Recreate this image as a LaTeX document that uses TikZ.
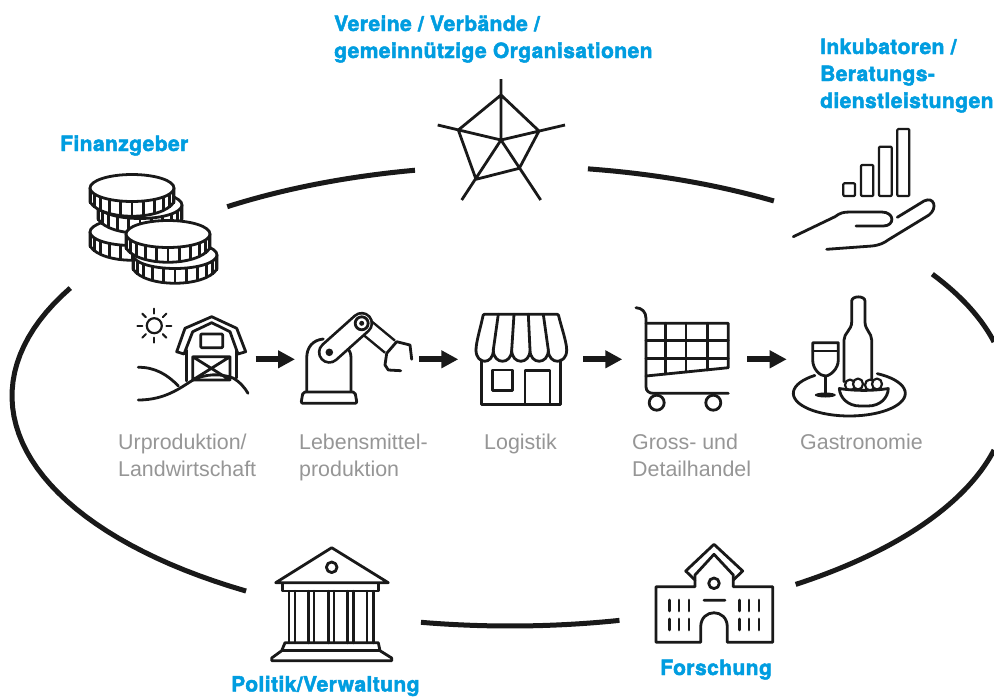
\documentclass[tikz,border=0pt]{standalone}
\usepackage{fontspec}
\setmainfont{Liberation Sans}
\newfontfamily\labelfont[BoldFont={* Bold},FakeBold=2.2,LetterSpace=2.0]{TeX Gyre Heros}
\usetikzlibrary{arrows.meta}
\definecolor{labelblue}{RGB}{0,157,224}
\definecolor{labelgray}{RGB}{150,150,150}
\tikzset{
	icon/.style={line width=2.8pt,line join=round,line cap=round,black!90},
	ring/.style={line width=5pt,black!90},
	flow/.style={line width=6pt,-{Triangle[length=17pt,width=17pt]},black!90},
	actor/.style={font=\labelfont\bfseries\fontsize{21}{27}\selectfont,text=labelblue,anchor=base west,inner sep=0pt,align=left},
	stage/.style={font=\fontsize{21.4}{27}\selectfont,text=labelgray,anchor=base west,inner sep=0pt,align=left},
}
\newcommand{\coin}[2]{%
	\fill [white] (#1-42,#2) -- (#1-42,#2+14) .. controls (#1-30,#2+33) and (#1+30,#2+33) .. (#1+42,#2+14) -- (#1+42,#2) -- cycle;
	\draw [icon] (#1-42,#2) -- (#1-42,#2+14) .. controls (#1-30,#2+33) and (#1+30,#2+33) .. (#1+42,#2+14) -- (#1+42,#2);
	\foreach \t in {-80,-64,-48,-32,-16,0,16,32,48,64,80}
		\draw [line width=2.6pt,black!90] ({#1+42*sin(\t)},{#2+13.5*cos(\t)}) -- ({#1+42*sin(\t)},{#2+13.5*cos(\t)+14});
	\draw [icon,fill=white] (#1,#2) ellipse (42 and 13.5);
}
\begin{document}
\begin{tikzpicture}[x=1pt,y=-1pt]
	\clip (0,0) rectangle (994,697);
	\fill [white] (0,0) rectangle (994,697);
	%grosser Ring
	\foreach \a/\b in {235.4/259,279/302,328/346.4,13.6/55,77.3/100.3,122/208}
		\draw [ring] plot [domain=\a:\b,samples=40] ({510+498*cos(\x)},{396+230*sin(\x)});
	%Vereine
	\draw [icon,line cap=butt] (501,79) -- (501,140)
	(437.7,125) -- (501,140) -- (565,125)
	(461.7,200) -- (501,140) -- (540.7,200)
	(501,95) -- (539,131) -- (519.3,168.3) -- (476,179.3) -- (458.3,130) -- cycle;
	%Inkubatoren
	\foreach \xa/\xb/\ya in {843.3/855/183.3,861/873.3/165,879/891.7/146.7,897.3/909.3/129}
		\draw [icon,line width=2.2pt,rounded corners=1pt] (\xa,\ya) rectangle (\xb,196);
	\draw [icon] (793.3,236.7) -- (835,216.7) .. controls (840,213) and (843,212) .. (850,212) -- (881.7,212) .. controls (895,212) and (895,226) .. (883.3,226) -- (856,226);
	\draw [icon] (826.7,249.3) -- (872,246) .. controls (880,245) and (884,243) .. (888,240) -- (929,215) .. controls (938,208) and (934,196) .. (924,201) -- (897.3,217.3);
	%Finanzgeber
	\coin{132}{232}
	\coin{140}{205}
	\coin{132}{188}
	\coin{175}{255}
	\coin{168}{234}
	%Landwirtschaft
	\draw [icon,line width=2.2pt] (154.3,325.7) circle (7.5);
	\foreach \t in {0,45,...,315}
		\draw [icon,line width=2pt] ({154.3+12*cos(\t)},{325.7+12*sin(\t)}) -- ({154.3+17*cos(\t)},{325.7+17*sin(\t)});
	\draw [icon] (186.7,350) -- (186.7,381) (236.7,350) -- (236.7,378);
	\draw [icon] (176.7,351.7) -- (185,328.3) -- (211.7,316.7) -- (236.7,328.3) -- (245.7,351.7) -- (238,354) -- (230,331.7) -- (211.7,322.7) -- (192.7,331.7) -- (184,354) -- cycle;
	\draw [icon] (192.7,356.7) rectangle (230,380) (192.7,356.7) -- (230,380) (230,356.7) -- (192.7,380);
	\draw [icon,rounded corners=1pt] (200.7,334) rectangle (222.7,347.7);
	\draw [icon] (138.3,400) .. controls (165,400) and (180,388) .. (193,380) .. controls (205,374) and (220,373) .. (233,378) .. controls (240,382) and (245,388) .. (248,393.3);
	\draw [icon] (138.3,367.3) .. controls (155,367) and (168,375) .. (178.3,386);
	%Lebensmittelproduktion
	\draw [icon,rounded corners=2pt] (301,403.3) -- (303,392) -- (355,392) -- (357,403.3) -- cycle;
	\draw [icon] (306.7,391.7) -- (306.7,358) .. controls (306.7,347) and (313,340) .. (323.3,339);
	\draw [icon] (351,391.7) -- (351,358) .. controls (351,354) and (350,351) .. (347.3,348);
	\draw [line width=18pt,black!90] (361.7,323.3) -- (390,346.7);
	\draw [line width=13pt,white,shorten >=-1pt] (361.7,323.3) -- (390,346.7);
	\draw [icon] (411.7,359.3) -- (410,345) -- (396.7,341.7) -- (386.7,353.3) -- (385,365) -- (388.3,370) -- (400.7,370.7);
	\draw [line width=23pt,line cap=round,black!90] (329.3,352.3) -- (361.7,323.3);
	\draw [line width=17.5pt,line cap=round,white] (329.3,352.3) -- (361.7,323.3);
	\draw [icon,fill=white] (361.7,323.3) circle (6.5);
	\fill [black!90] (361.7,323.3) circle (2.5) (329.3,352.3) circle (3.8);
	%Logistik
	\draw [icon] (481.7,360) -- (481.7,404.3) -- (560.7,404.3) -- (560.7,360);
	\draw [icon] (492.7,370) rectangle (512.7,390.7) (525,404.3) -- (525,370.7) -- (550,370.7) -- (550,404.3);
	\draw [icon,rounded corners=1pt] (476,350) .. controls (476,342) and (481,326) .. (483.3,314.3) -- (558.3,314.3) .. controls (561,326) and (566.7,342) .. (566.7,350);
	\draw [icon] (476,350) .. controls (476,365) and (493.3,365) .. (493.3,350) .. controls (493.3,365) and (511.7,365) .. (511.7,350) .. controls (511.7,365) and (530,365) .. (530,350) .. controls (530,365) and (548.3,365) .. (548.3,350) .. controls (548.3,365) and (566.7,365) .. (566.7,350);
	\draw [icon] (498.3,314.3) -- (493.3,350) (514,314.3) -- (511.7,350) (528.3,314.3) -- (530,350) (543.3,314.3) -- (548.3,350);
	%Handel
	\draw [icon] (636,307.7) .. controls (642,308) and (646,312) .. (646,318.3) -- (646,386.7) .. controls (646,391) and (649,393.3) .. (653.3,393.3) -- (728.3,393.3);
	\draw [icon] (646,323.3) -- (728.3,323.3) -- (728.3,367.7) -- (646,376);
	\draw [icon] (646,340.7) -- (728.3,340.7) (646,358.3) -- (728.3,358.3);
	\draw [icon] (665.7,323.3) -- (665.7,374) (686,323.3) -- (686,372) (707.3,323.3) -- (707.3,370);
	\draw [icon] (656.7,402.7) circle (7.5) (713.3,402.7) circle (7.5);
	%Gastronomie
	\draw [icon] plot [domain=232:-60,samples=50] ({849.3+56*cos(\x)},{393.3+22.7*sin(\x)});
	\draw [icon,fill=white] (844,381.7) -- (844,340) .. controls (844,333) and (851.7,330) .. (851.7,322) -- (851.7,301) .. controls (851.7,295.5) and (865,295.5) .. (865,301) -- (865,322) .. controls (865,330) and (871.7,333) .. (871.7,340) -- (871.7,381.7);
	\draw [icon] (812.7,342.7) -- (838.3,342.7) -- (838.3,360) .. controls (838.3,369) and (830,376) .. (825.3,376) .. controls (820,376) and (812.7,369) .. (812.7,360) -- cycle;
	\draw [icon] (813,351) -- (838,351) (825.3,376) -- (825.3,394);
	\fill [black!90] (825.3,395) ellipse (10.5 and 2.5);
	\foreach \xc/\yc in {850/385,858/384,870/385,877/384}
		\draw [icon,line width=2.2pt,fill=white] (\xc,\yc) ellipse (5 and 5.5);
	\draw [icon,fill=white] (839.3,388.5) .. controls (855,391) and (873,391) .. (888.3,388.5) .. controls (888,398) and (880,406) .. (868,406) -- (860,406) .. controls (848,406) and (840,398) .. (839.3,388.5) -- cycle;
	%Forschung
	\draw [icon,fill=white] (656,586.7) -- (695,586.7) -- (695,575) -- (714,554.3) -- (733.3,575) -- (733.3,586.7) -- (772.7,586.7) -- (772.7,642.3) -- (727.3,642.3) -- (727.3,627) .. controls (727.3,608) and (700.7,608) .. (700.7,627) -- (700.7,642.3) -- (656,642.3) -- cycle;
	\draw [icon] (695,580) -- (685.7,571) -- (714,544.3) -- (742.7,571) -- (733.3,580);
	\draw [icon] (714,583.3) circle (5.3) (704,600.3) -- (725,600.3);
	\foreach \xw in {669.3,679,689,739.3,749,759}
		\draw [icon] (\xw,600) -- (\xw,611) (\xw,619) -- (\xw,630);
	%Politik
	\draw [icon] (331.7,547.7) -- (275.7,582.7) -- (388.3,582.7) -- cycle;
	\draw [icon] (331.7,567.3) circle (5.3);
	\draw [icon] (282.7,584) -- (282.7,591) -- (378.3,591) -- (378.3,584);
	\foreach \xa/\xb in {289/295,308.3/314,328.3/334,347.3/353.3,366.7/373.3}
		\draw [icon,line width=2.4pt] (\xa,591) -- (\xa,643) (\xb,591) -- (\xb,643);
	\draw [icon] (285,642.7) -- (378.3,642.7) -- (380,650.7) -- (391.7,658) -- (391.7,660.7) -- (271.7,660.7) -- (271.7,658) -- (281.7,650.7) -- cycle;
	\draw [icon] (281.7,650.7) -- (380,650.7);
	%Pfeile
	\coordinate (farmout) at (255.7,359.3);
	\coordinate (robotin) at (295,359.3);
	\coordinate (robotout) at (419,359.3);
	\coordinate (shopin) at (458.3,359.3);
	\coordinate (shopout) at (583,359.3);
	\coordinate (cartin) at (622.3,359.3);
	\coordinate (cartout) at (747.3,359.3);
	\coordinate (tablein) at (786.7,359.3);
	\draw [flow] (farmout) -- (robotin);
	\draw [flow] (robotout) -- (shopin);
	\draw [flow] (shopout) -- (cartin);
	\draw [flow] (cartout) -- (tablein);
	%Texte
	\node [actor] (vereine) at (334,58) {Vereine / Verbände /\\gemeinnützige Organisationen};
	\node [actor] (inkubatoren) at (820,108) {Inkubatoren /\\Beratungs-\\dienstleistungen};
	\node [actor] (finanzgeber) at (60,151) {Finanzgeber};
	\node [actor] (forschung) at (660,675) {Forschung};
	\node [actor] (politik) at (231,691.5) {Politik/Verwaltung};
	\node [stage] (urproduktion) at (118,476) {Urproduktion/\\Landwirtschaft};
	\node [stage] (lebensmittel) at (299,476) {Lebensmittel-\\produktion};
	\node [stage] (logistik) at (484,449) {Logistik};
	\node [stage] (handel) at (632,476) {Gross- und\\Detailhandel};
	\node [stage] (gastronomie) at (800,449) {Gastronomie};
\end{tikzpicture}
\end{document}
